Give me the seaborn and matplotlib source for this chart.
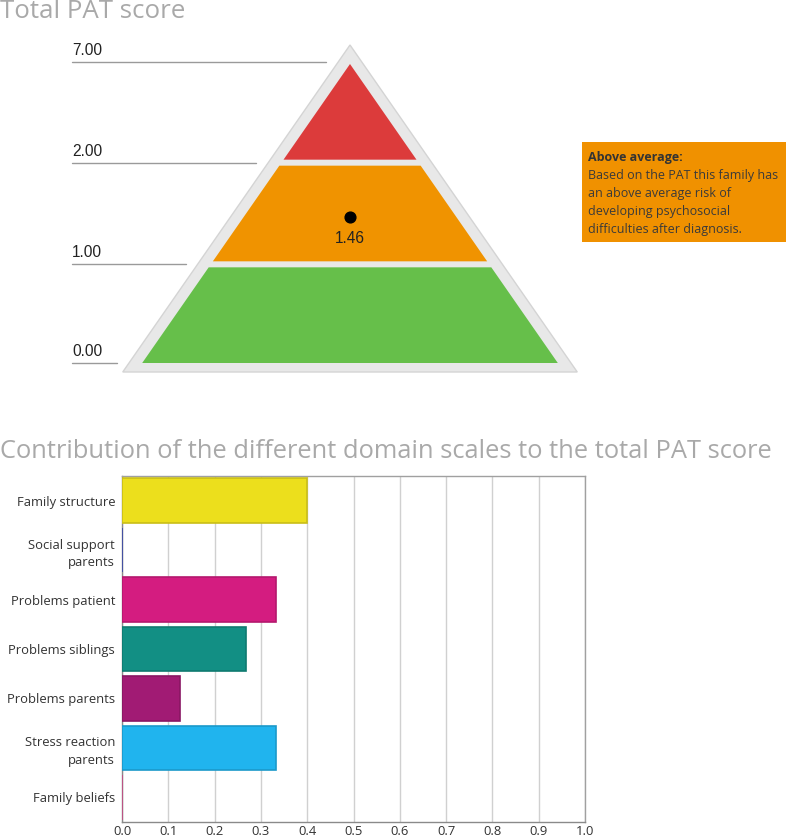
import numpy as np
import pandas as pd
import matplotlib
matplotlib.use("Agg")
import matplotlib.pyplot as plt
from matplotlib.patches import Polygon, Rectangle
import seaborn as sns

# pyramid data
level_values = [0, 1, 2, 7]
level_labels = ["0.00", "1.00", "2.00", "7.00"]
band_colors = ["#66bf4a", "#f09300", "#dc3b3b"]
score = 1.46
score_label = "1.46"
box_title = "Above average:"
box_text = ["Based on the PAT this family has", "an above average risk of",
            "developing psychosocial", "difficulties after diagnosis."]

# domain scales
domains = ["Family structure", "Social support\nparents", "Problems patient",
           "Problems siblings", "Problems parents", "Stress reaction\nparents",
           "Family beliefs"]
contrib = [0.40, 0.0, 0.333, 0.267, 0.125, 0.333, 0.0]
domain_colors = ["#ecdf1c", "#3f51c4", "#d41c80", "#128f84", "#a11b74", "#20b4ee", "#e8559a"]
x_ticks = [0.0, 0.1, 0.2, 0.3, 0.4, 0.5, 0.6, 0.7, 0.8, 0.9, 1.0]

sns.set_style("white")
plt.rcParams['font.family'] = ['Open Sans', 'DejaVu Sans']

W, H = 787, 840
fig = plt.figure(figsize=(W / 100, H / 100), dpi=100)

# full-figure canvas in pixel units for the pyramid part
ax0 = fig.add_axes([0, 0, 1, 1])
ax0.set_xlim(0, W)
ax0.set_ylim(H, 0)
ax0.axis("off")

ax0.text(0, 11, "Total PAT score", fontsize=18.6, color="#a9a9a9", va="center", ha="left")

cx = 350
slope = 0.695
outer_top, outer_bot = 45, 372
ax0.add_patch(Polygon([(cx, outer_top),
                       (cx - slope * (outer_bot - outer_top), outer_bot),
                       (cx + slope * (outer_bot - outer_top), outer_bot)],
                      closed=True, facecolor="#e8e8e8", edgecolor="#d4d4d4", lw=1))

apex, base = 64, 363
gap = 6
n = len(band_colors)
band_h = (base - apex - gap * (n - 1)) / n
band_edges = []
for i, col in enumerate(band_colors):
    y_bot = base - i * (band_h + gap)
    y_top = y_bot - band_h
    band_edges.append((y_bot, y_top))
    hb = slope * (y_bot - apex)
    ht = slope * (y_top - apex)
    ax0.add_patch(Polygon([(cx - hb, y_bot), (cx + hb, y_bot), (cx + ht, y_top), (cx - ht, y_top)],
                          closed=True, facecolor=col, edgecolor="none"))

# level lines
line_y = [base, base - band_h - gap / 2, base - 2 * band_h - 1.5 * gap, apex - 2]
for lab, y in zip(level_labels, line_y):
    x_end = cx - slope * (y - outer_top) - 12
    ax0.plot([72, x_end], [y, y], color="#9a9a9a", lw=1)
    ax0.text(72, y - 4, lab, fontsize=11.2, family=["Liberation Sans"], color="#222222",
             va="bottom", ha="left")

# score marker
for i in range(n):
    lo, hi = level_values[i], level_values[i + 1]
    if lo <= score <= hi:
        y_bot, y_top = band_edges[i]
        y_dot = y_bot - (score - lo) / (hi - lo) * (y_bot - y_top)
ax0.scatter([cx], [y_dot], s=60, color="black", zorder=5)
ax0.text(cx, y_dot + 21, score_label, fontsize=11.2, family=["Liberation Sans"], color="#222222",
         ha="center", va="center")

# info box
ax0.add_patch(Rectangle((582, 142), 204, 100, facecolor="#f09100", edgecolor="none"))
ax0.text(588, 157, box_title, fontsize=9.0, fontweight="bold", color="#333333", va="center")
for k, line in enumerate(box_text):
    ax0.text(588, 175.5 + k * 18, line, fontsize=9.0, color="#3a3a3a", va="center")

ax0.text(0, 452, "Contribution of the different domain scales to the total PAT score",
         fontsize=18.4, color="#a9a9a9", va="center", ha="left")

# bar chart
ax = fig.add_axes([122 / W, (H - 822) / H, 463 / W, 346 / H])
df = pd.DataFrame({"domain": domains, "value": contrib})
sns.barplot(data=df, x="value", y="domain", hue="domain", palette=domain_colors,
            orient="h", width=0.9, saturation=1, legend=False, ax=ax, zorder=3)
for patch in ax.patches:
    patch.set_edgecolor(tuple(np.array(patch.get_facecolor()[:3]) * 0.85))
    patch.set_linewidth(1.2)
ax.set_xlim(0, 1.0)
ax.set_xticks(x_ticks)
ax.set_xticklabels([f"{t:.1f}" for t in x_ticks])
ax.xaxis.grid(True, color="#d0d0d0", lw=1)
ax.set_axisbelow(True)
ax.set_xlabel("")
ax.set_ylabel("")
ax.tick_params(axis="both", length=0, labelsize=9.4, colors="#333333")
ax.tick_params(axis="y", pad=5)
ax.tick_params(axis="x", pad=2)
for lbl in ax.get_yticklabels():
    lbl.set_multialignment("right")
    lbl.set_linespacing(1.45)
for sp in ax.spines.values():
    sp.set_visible(True)
    sp.set_color("#a0a0a0")
    sp.set_linewidth(1)
ax.spines["left"].set_color("#8a8a8a")
ax.spines["bottom"].set_color("#8a8a8a")

fig.savefig("out.png", dpi=100)
